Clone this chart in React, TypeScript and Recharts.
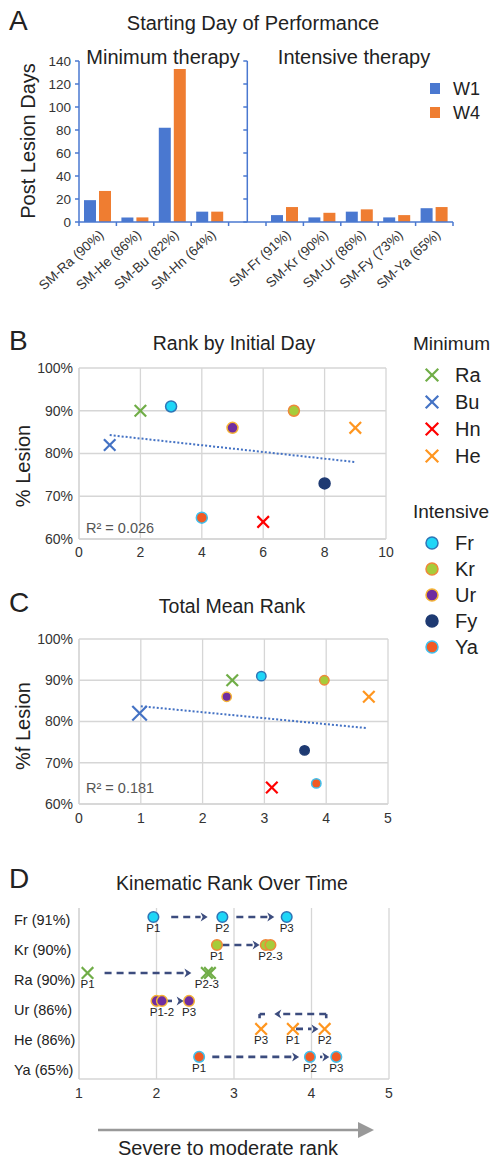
import React from "react";
import {
  BarChart,
  Bar,
  XAxis,
  YAxis,
  ReferenceLine,
  ScatterChart,
  Scatter,
  CartesianGrid,
} from "recharts";

const FONT = '"Liberation Sans", Arial, Helvetica, sans-serif';
const AXIS_BLUE = "#4a78d0";
const GRID = "#d6d6d6";
const ARROW = "#3c4c7e";
const TEXT = "#222";

// A: starting day of performance (post lesion days)
const barCategories = [
  "SM-Ra (90%)",
  "SM-He (86%)",
  "SM-Bu (82%)",
  "SM-Hn (64%)",
  " ",
  "SM-Fr (91%)",
  "SM-Kr (90%)",
  "SM-Ur (86%)",
  "SM-Fy (73%)",
  "SM-Ya (65%)",
];
const w1Days = [19, 4, 82, 9, null, 6, 4, 9, 4, 12];
const w4Days = [27, 4, 133, 9, null, 13, 8, 11, 6, 13];
const dayTicks = [0, 20, 40, 60, 80, 100, 120, 140];

// B / C: subjects, lesion size and ranks
const subjects = ["Ra", "Bu", "Hn", "He", "Fr", "Kr", "Ur", "Fy", "Ya"];
const lesionPct = [90, 82, 64, 86, 91, 90, 86, 73, 65];
const initialDayRank = [2, 1, 6, 9, 3, 7, 5, 8, 4];
const totalMeanRank = [2.48, 0.98, 3.12, 4.69, 2.95, 3.97, 2.39, 3.65, 3.84];
const pctTicks = [60, 70, 80, 90, 100];
const trendB = [
  { x: 1, y: 84.3 },
  { x: 9, y: 78.0 },
];
const trendC = [
  { x: 1, y: 83.7 },
  { x: 4.66, y: 78.4 },
];

// D: kinematic rank over time
const kinRows = ["Fr (91%)", "Kr (90%)", "Ra (90%)", "Ur (86%)", "He (86%)", "Ya (65%)"];
const kinSubjects = ["Fr", "Kr", "Ra", "Ur", "He", "Ya"];
const kinP1 = [1.96, 2.78, 1.11, 2.0, 3.76, 2.55];
const kinP2 = [2.85, 3.41, 2.65, 2.07, 4.17, 3.98];
const kinP3 = [3.68, 3.47, 2.69, 2.42, 3.35, 4.32];
const kinLabels = [
  ["P1", "P2", "P3"],
  ["P1", "", "P2-3"],
  ["P1", "P2-3", ""],
  ["", "P1-2", "P3"],
  ["P1", "P2", "P3"],
  ["P1", "P2", "P3"],
];
const kinArrows = [
  { row: 0, from: 2.19, to: 2.66 },
  { row: 0, from: 3.03, to: 3.52 },
  { row: 1, from: 2.85, to: 3.33 },
  { row: 2, from: 1.33, to: 2.45 },
  { row: 3, from: 2.11, to: 2.35 },
  { row: 4, from: 3.8, to: 4.09 },
  { row: 5, from: 2.72, to: 3.84 },
  { row: 5, from: 4.11, to: 4.23 },
];
// He returns from P2 back to P3 (bracket above the row)
const heReturn = { top: 3.47, foot: 3.62, right: 4.19, left: 3.33, head: 3.52, stub: 3.4 };

const MARK: Record<string, any> = {
  Ra: { kind: "x", color: "#70ad47" },
  Bu: { kind: "x", color: "#4472c4" },
  Hn: { kind: "x", color: "#ff0000" },
  He: { kind: "x", color: "#ff961f" },
  Fr: { kind: "o", fill: "#1ed6f7", stroke: "#2e75b6" },
  Kr: { kind: "o", fill: "#a6cc3b", stroke: "#f0883a" },
  Ur: { kind: "o", fill: "#6f2da0", stroke: "#f5b335" },
  Fy: { kind: "o", fill: "#1e3a72", stroke: "#1e3a72" },
  Ya: { kind: "o", fill: "#f15a24", stroke: "#3fc0ee" },
};

function Marker({ cx, cy, name, s = 5, r = 5.5 }: any) {
  const m = MARK[name];
  if (!m) return null;
  if (m.kind === "x") {
    return (
      <g stroke={m.color} strokeWidth={2.2} strokeLinecap="square">
        <line x1={cx - s} y1={cy - s} x2={cx + s} y2={cy + s} />
        <line x1={cx - s} y1={cy + s} x2={cx + s} y2={cy - s} />
      </g>
    );
  }
  return <circle cx={cx} cy={cy} r={r} fill={m.fill} stroke={m.stroke} strokeWidth={1.5} />;
}

const BAND_HALF = 18.7;

function BarTick(props: any) {
  const { x, y, payload, index } = props;
  const label = String(payload.value).trim();
  return (
    <g>
      <line x1={x - BAND_HALF} y1={y} x2={x - BAND_HALF} y2={y + 4} stroke={AXIS_BLUE} strokeWidth={1.5} />
      {index === barCategories.length - 1 && (
        <line x1={x + BAND_HALF} y1={y} x2={x + BAND_HALF} y2={y + 4} stroke={AXIS_BLUE} strokeWidth={1.5} />
      )}
      {label && (
        <text
          transform={`translate(${x + 7},${y + 14}) rotate(-42)`}
          textAnchor="end"
          fontSize={13.5}
          fill="#333"
          fontFamily={FONT}
        >
          {label}
        </text>
      )}
    </g>
  );
}

function MidAxis(p: any) {
  const top = Math.min(p.y1, p.y2);
  const bottom = Math.max(p.y1, p.y2);
  const step = (bottom - top) / (dayTicks.length - 1);
  return (
    <g stroke={AXIS_BLUE} strokeWidth={1.5}>
      <line x1={p.x1} y1={top} x2={p.x1} y2={bottom} />
      {dayTicks.map((t, i) => (
        <line key={t} x1={p.x1 - 4} y1={top + i * step} x2={p.x1} y2={top + i * step} />
      ))}
    </g>
  );
}

const arrowShape = (head: boolean) => (p: any) => {
  const { x1, y1, x2, y2 } = p;
  const dx = x2 - x1;
  const dy = y2 - y1;
  const len = Math.hypot(dx, dy) || 1;
  const ux = dx / len;
  const uy = dy / len;
  const hl = head ? 7 : 0;
  const ex = x2 - ux * hl;
  const ey = y2 - uy * hl;
  return (
    <g>
      <line x1={x1} y1={y1} x2={ex} y2={ey} stroke={ARROW} strokeWidth={2.6} strokeDasharray="7 5" />
      {head && (
        <polygon
          points={`${x2},${y2} ${ex - uy * 4.5},${ey + ux * 4.5} ${ex + ux * 2},${ey + uy * 2} ${ex + uy * 4.5},${ey - ux * 4.5}`}
          fill={ARROW}
        />
      )}
    </g>
  );
};

function PanelA() {
  const data = barCategories.map((name, i) => ({ name, w1: w1Days[i], w4: w4Days[i] }));
  return (
    <BarChart
      width={493}
      height={300}
      data={data}
      margin={{ top: 61, right: 40, left: 29, bottom: 0 }}
      barSize={12}
      barGap={3}
    >
      <XAxis
        dataKey="name"
        interval={0}
        height={78}
        tickLine={false}
        tickSize={0}
        tickMargin={0}
        axisLine={{ stroke: AXIS_BLUE, strokeWidth: 1.5 }}
        tick={<BarTick />}
      />
      <YAxis
        width={50}
        domain={[0, 140]}
        ticks={dayTicks}
        interval={0}
        tickSize={4}
        tickMargin={4}
        axisLine={{ stroke: AXIS_BLUE, strokeWidth: 1.5 }}
        tickLine={{ stroke: AXIS_BLUE, strokeWidth: 1.5 }}
        tick={{ fontSize: 13.5, fill: "#333", fontFamily: FONT }}
      />
      <ReferenceLine x=" " shape={MidAxis} />
      <Bar dataKey="w1" fill="#4a78d0" isAnimationActive={false} />
      <Bar dataKey="w4" fill="#ef7d31" isAnimationActive={false} />
    </BarChart>
  );
}

function RankScatter({ ranks, trend, xTicks, xMax, margin, tickMargin, big }: any) {
  const data = subjects.map((name, i) => ({ name, x: ranks[i], y: lesionPct[i] }));
  return (
    <ScatterChart width={400} height={280} margin={margin}>
      <CartesianGrid stroke={GRID} strokeWidth={1.3} />
      <XAxis
        type="number"
        dataKey="x"
        domain={[0, xMax]}
        ticks={xTicks}
        interval={0}
        tickLine={false}
        tickSize={0}
        tickMargin={tickMargin}
        height={25}
        axisLine={{ stroke: GRID, strokeWidth: 1.3 }}
        tick={{ fontSize: 14, fill: "#333", fontFamily: FONT }}
      />
      <YAxis
        type="number"
        dataKey="y"
        width={50}
        domain={[60, 100]}
        ticks={pctTicks}
        interval={0}
        tickLine={false}
        tickSize={0}
        tickMargin={6}
        tickFormatter={(v: number) => `${v}%`}
        axisLine={{ stroke: GRID, strokeWidth: 1.3 }}
        tick={{ fontSize: 14, fill: "#333", fontFamily: FONT }}
      />
      <ReferenceLine
        segment={trend}
        stroke="#4472c4"
        strokeWidth={2}
        strokeDasharray="2 2"
      />
      <Scatter
        data={data}
        isAnimationActive={false}
        shape={(p: any) => (
          <Marker
            cx={p.cx}
            cy={p.cy}
            name={p.payload.name}
            s={big && p.payload.name === "Bu" ? 6.5 : 5}
            r={big ? 4.7 : 5.5}
          />
        )}
      />
    </ScatterChart>
  );
}

function KinTick(p: any) {
  return (
    <text x={14} y={p.y + 8.5 + p.index * 2} fontSize={14.5} fill={TEXT} fontFamily={FONT}>
      {kinRows[p.payload.value]}
    </text>
  );
}

function PanelD() {
  const data: any[] = [];
  kinSubjects.forEach((name, i) => {
    [kinP1[i], kinP2[i], kinP3[i]].forEach((x, j) => {
      data.push({ name, x, y: i, label: kinLabels[i][j] });
    });
  });
  return (
    <ScatterChart width={400} height={270} margin={{ top: 68, right: 11, left: 4, bottom: 6 }}>
      <CartesianGrid stroke={GRID} strokeWidth={1.3} horizontal={false} />
      <XAxis
        type="number"
        dataKey="x"
        domain={[1, 5]}
        ticks={[1, 2, 3, 4, 5]}
        interval={0}
        tickLine={false}
        tickSize={0}
        tickMargin={9}
        height={25}
        axisLine={{ stroke: GRID, strokeWidth: 1.3 }}
        tick={{ fontSize: 14, fill: "#333", fontFamily: FONT }}
      />
      <YAxis
        type="number"
        dataKey="y"
        width={75}
        reversed
        domain={[-0.32, 5.79]}
        allowDataOverflow
        ticks={[0, 1, 2, 3, 4, 5]}
        interval={0}
        tickLine={false}
        axisLine={{ stroke: GRID, strokeWidth: 1.3 }}
        tick={<KinTick />}
      />
      {kinArrows.map((a, i) => (
        <ReferenceLine
          key={i}
          segment={[
            { x: a.from, y: a.row },
            { x: a.to, y: a.row },
          ]}
          shape={arrowShape(true)}
        />
      ))}
      <ReferenceLine
        segment={[
          { x: heReturn.right, y: heReturn.foot },
          { x: heReturn.right, y: heReturn.top },
        ]}
        shape={arrowShape(false)}
      />
      <ReferenceLine
        segment={[
          { x: heReturn.right, y: heReturn.top },
          { x: heReturn.head, y: heReturn.top },
        ]}
        shape={arrowShape(true)}
      />
      <ReferenceLine
        segment={[
          { x: heReturn.stub, y: heReturn.top },
          { x: heReturn.left, y: heReturn.top },
        ]}
        shape={arrowShape(false)}
      />
      <ReferenceLine
        segment={[
          { x: heReturn.left, y: heReturn.top },
          { x: heReturn.left, y: heReturn.foot },
        ]}
        shape={arrowShape(false)}
      />
      <Scatter
        data={data}
        isAnimationActive={false}
        shape={(p: any) => (
          <g>
            <Marker cx={p.cx} cy={p.cy} name={p.payload.name} s={5} r={5.3} />
            {p.payload.label && (
              <text x={p.cx} y={p.cy + 15} textAnchor="middle" fontSize={11.5} fill={TEXT} fontFamily={FONT}>
                {p.payload.label}
              </text>
            )}
          </g>
        )}
      />
    </ScatterChart>
  );
}

const minimumGroup = ["Ra", "Bu", "Hn", "He"];
const intensiveGroup = ["Fr", "Kr", "Ur", "Fy", "Ya"];

function Overlay() {
  const t = (x: number, y: number, s: string, size = 18, anchor = "start", extra: any = {}) => (
    <text x={x} y={y} fontSize={size} textAnchor={anchor} fill={TEXT} fontFamily={FONT} {...extra}>
      {s}
    </text>
  );
  return (
    <svg
      width={493}
      height={1163}
      style={{ position: "absolute", left: 0, top: 0, pointerEvents: "none" }}
    >
      {t(9, 30, "A", 28)}
      {t(253, 30, "Starting Day of Performance", 20, "middle")}
      {t(163, 64, "Minimum therapy", 20, "middle")}
      {t(354, 64, "Intensive therapy", 20, "middle")}
      <rect x={430} y={83} width={10} height={11} fill="#4a78d0" />
      {t(453, 95, "W1", 18)}
      <rect x={430} y={107} width={10} height={11} fill="#ef7d31" />
      {t(453, 119, "W4", 18)}
      <text transform="translate(35,141) rotate(-90)" fontSize={20} textAnchor="middle" fill={TEXT} fontFamily={FONT}>
        Post Lesion Days
      </text>

      {t(9, 350, "B", 28)}
      {t(234, 350, "Rank by Initial Day", 19.5, "middle")}
      <text transform="translate(30,466) rotate(-90)" fontSize={20} textAnchor="middle" fill={TEXT} fontFamily={FONT}>
        % Lesion
      </text>
      {t(86, 533, "R² = 0.026", 14.5, "start", { fill: "#555" })}

      {t(413, 350, "Minimum", 19)}
      {minimumGroup.map((n, i) => (
        <g key={n}>
          <Marker cx={432} cy={375 + i * 27} name={n} s={5.5} />
          {t(455, 382 + i * 27, n, 20)}
        </g>
      ))}
      {t(413, 518, "Intensive", 19)}
      {intensiveGroup.map((n, i) => (
        <g key={n}>
          <Marker cx={432} cy={543 + i * 26} name={n} r={6} />
          {t(455, 550 + i * 26, n, 20)}
        </g>
      ))}

      {t(9, 612, "C", 28)}
      {t(232, 613, "Total Mean Rank", 19.5, "middle")}
      <text transform="translate(30,726) rotate(-90)" fontSize={20} textAnchor="middle" fill={TEXT} fontFamily={FONT}>
        %f Lesion
      </text>
      {t(86, 793, "R² = 0.181", 14.5, "start", { fill: "#555" })}

      {t(9, 888, "D", 28)}
      {t(232, 890, "Kinematic Rank Over Time", 19.5, "middle")}
      <line x1={98} y1={1130} x2={360} y2={1130} stroke="#999" strokeWidth={2.5} />
      <polygon points="374,1130 358,1122 358,1138" fill="#999" />
      {t(228, 1155, "Severe to moderate rank", 20, "middle")}
    </svg>
  );
}

export default function App() {
  return (
    <div
      style={{
        position: "absolute",
        left: 0,
        top: 0,
        width: 493,
        height: 1163,
        background: "#fff",
        fontFamily: FONT,
        overflow: "hidden",
      }}
    >
      <div style={{ position: "absolute", left: 0, top: 0 }}>
        <PanelA />
      </div>
      <div style={{ position: "absolute", left: 0, top: 290 }}>
        <RankScatter
          ranks={initialDayRank}
          trend={trendB}
          xTicks={[0, 2, 4, 6, 8, 10]}
          xMax={10}
          margin={{ top: 78, right: 14, left: 29, bottom: 6 }}
          tickMargin={8}
        />
      </div>
      <div style={{ position: "absolute", left: 0, top: 560 }}>
        <RankScatter
          ranks={totalMeanRank}
          trend={trendC}
          xTicks={[0, 1, 2, 3, 4, 5]}
          xMax={5}
          margin={{ top: 79, right: 12, left: 29, bottom: 11 }}
          tickMargin={9}
          big
        />
      </div>
      <div style={{ position: "absolute", left: 0, top: 840 }}>
        <PanelD />
      </div>
      <Overlay />
    </div>
  );
}
